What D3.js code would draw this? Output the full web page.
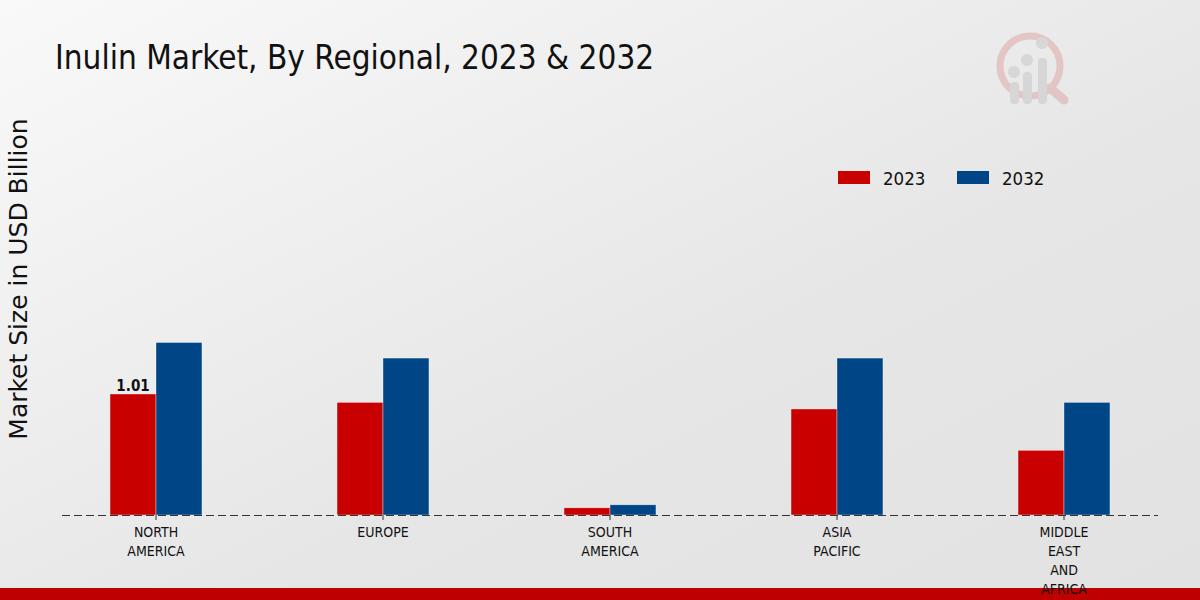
<!DOCTYPE html>
<html><head><meta charset="utf-8">
<script src="https://cdn.jsdelivr.net/npm/d3@7"></script>
<style>html,body{margin:0;padding:0;}svg{display:block;}</style>
</head><body>
<svg id="chart" width="1200" height="600"></svg>
<script>
const categories = ["NORTH AMERICA", "EUROPE", "SOUTH AMERICA", "ASIA PACIFIC", "MIDDLE EAST AND AFRICA"];
const categoryLines = [["NORTH","AMERICA"],["EUROPE"],["SOUTH","AMERICA"],["ASIA","PACIFIC"],["MIDDLE","EAST","AND","AFRICA"]];
const seriesNames = ["2023", "2032"];
const values2023 = [1.01, 0.94, 0.06, 0.885, 0.54];
const values2032 = [1.44, 1.31, 0.085, 1.31, 0.94];
const colors = ["#c80000", "#004586"];
const title = "Inulin Market, By Regional, 2023 & 2032";
const yTitle = "Market Size in USD Billion";

const svg = d3.select("#chart");
const defs = svg.append("defs");
const grad = defs.append("linearGradient").attr("id","bg").attr("x1","0").attr("y1","0").attr("x2","1").attr("y2","1");
grad.append("stop").attr("offset","0%").attr("stop-color","#f9f9f9");
grad.append("stop").attr("offset","60%").attr("stop-color","#e6e6e6");
grad.append("stop").attr("offset","100%").attr("stop-color","#e2e2e2");
svg.append("rect").attr("width",1200).attr("height",600).attr("fill","url(#bg)");

// bottom bar
svg.append("rect").attr("x",0).attr("y",588).attr("width",1200).attr("height",12).attr("fill","#bf0000");

// logo
const logo = svg.append("g").attr("opacity",0.55);
logo.append("circle").attr("cx",1030).attr("cy",66).attr("r",30).attr("fill","none").attr("stroke","#e0a8a8").attr("stroke-width",7);
logo.append("line").attr("x1",1050).attr("y1",88).attr("x2",1064).attr("y2",100).attr("stroke","#e0a8a8").attr("stroke-width",9).attr("stroke-linecap","round");
[[1014,82],[1027,72],[1042,58]].forEach(([x,y])=>{
  logo.append("rect").attr("x",x-4).attr("y",y).attr("width",9).attr("height",104-y).attr("rx",4).attr("fill","#c8c8c8");
});
[[1014,72],[1027,60],[1042,43]].forEach(([x,y])=>logo.append("circle").attr("cx",x).attr("cy",y).attr("r",6).attr("fill","#c8c8c8"));

// title
svg.append("text").attr("x",55).attr("y",69).attr("font-family","DejaVu Sans").attr("font-stretch","condensed")
  .attr("font-size",33).attr("fill","#111").text(title);

// y title
svg.append("text").attr("transform","translate(27,279) rotate(-90)").attr("text-anchor","middle")
  .attr("font-family","DejaVu Sans").attr("font-size",25).attr("fill","#111").text(yTitle);

const x0 = d3.scaleBand().domain(categories).range([42.5,1177.5]).paddingInner(0.595).paddingOuter(0.2975);
const x1 = d3.scaleBand().domain(seriesNames).range([0, x0.bandwidth()]);
const y = d3.scaleLinear().domain([0,3]).range([515, 515-359.4]);
const color = d3.scaleOrdinal().domain(seriesNames).range(colors);

const data = categories.map((c,i)=>({cat:c, vals:[{s:"2023",v:values2023[i]},{s:"2032",v:values2032[i]}]}));

const groups = svg.append("g").selectAll("g").data(data).join("g")
  .attr("transform",d=>`translate(${x0(d.cat)},0)`);
groups.selectAll("rect").data(d=>d.vals).join("rect")
  .attr("x",d=>x1(d.s)).attr("y",d=>y(d.v)).attr("width",x1.bandwidth()).attr("height",d=>y(0)-y(d.v))
  .attr("fill",d=>color(d.s)).attr("stroke","#ffffff").attr("stroke-width",0.6).attr("stroke-opacity",0.6);

// value label
svg.append("text").attr("x",x0(categories[0])+x1("2023")+x1.bandwidth()/2).attr("y",y(values2023[0])-3)
  .attr("text-anchor","middle").attr("font-family","DejaVu Sans").attr("font-stretch","condensed")
  .attr("font-weight","bold").attr("font-size",15).attr("fill","#111").text(values2023[0].toFixed(2));

// baseline
svg.append("line").attr("x1",62).attr("x2",1158).attr("y1",y(0)+0.5).attr("y2",y(0)+0.5)
  .attr("stroke","#333").attr("stroke-width",1).attr("stroke-dasharray","8,4");

// x axis
const xAxis = svg.append("g").attr("transform",`translate(0,${y(0)})`)
  .call(d3.axisBottom(x0).tickSize(5).tickFormat(""));
xAxis.select(".domain").remove();
xAxis.selectAll(".tick line").attr("stroke","#333");
xAxis.selectAll(".tick").each(function(d,i){
  const t = d3.select(this).append("text").attr("fill","#111").attr("font-family","DejaVu Sans")
    .attr("font-stretch","condensed").attr("font-size",14).attr("text-anchor","middle");
  categoryLines[i].forEach((ln,j)=>t.append("tspan").attr("x",0).attr("y",22+j*19).text(ln));
});

// legend
const legend = svg.append("g");
seriesNames.forEach((s,i)=>{
  const lx = 838 + i*119;
  legend.append("rect").attr("x",lx).attr("y",171).attr("width",32).attr("height",13).attr("fill",colors[i]);
  legend.append("text").attr("x",lx+45).attr("y",185).attr("font-family","DejaVu Sans").attr("font-stretch","condensed")
    .attr("font-size",18.5).attr("fill","#111").text(s);
});
</script>
</body></html>
